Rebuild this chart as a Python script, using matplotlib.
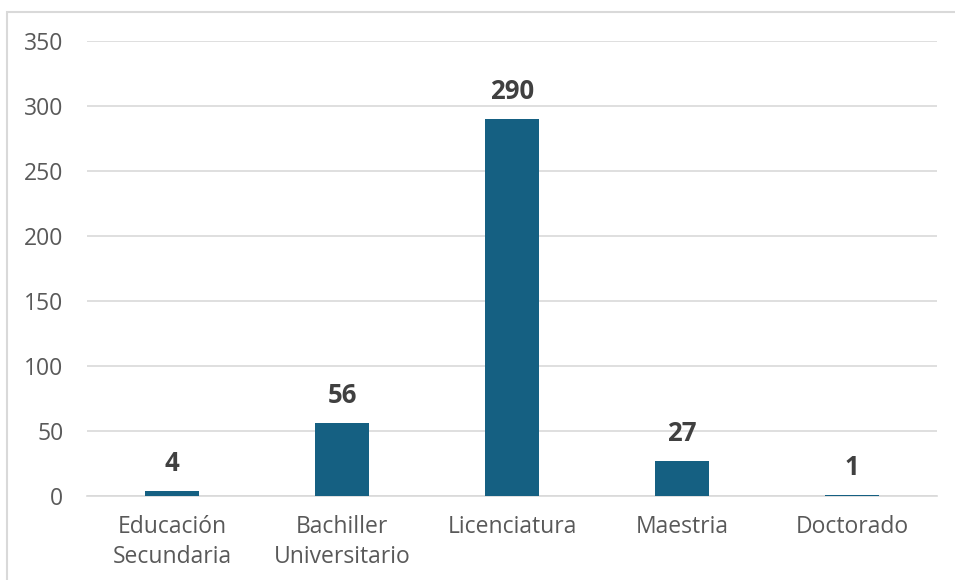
import matplotlib.pyplot as plt
from matplotlib.patches import Rectangle

# education level counts
categories = ['Educación\nSecundaria', 'Bachiller\nUniversitario', 'Licenciatura', 'Maestria', 'Doctorado']
counts = [4, 56, 290, 27, 1]
yticks = [0, 50, 100, 150, 200, 250, 300, 350]

bar_color = '#156082'
grid_color = '#d9d9d9'

plt.rcParams['font.family'] = ['Open Sans', 'DejaVu Sans']

fig = plt.figure(figsize=(9.55, 5.8), dpi=100)
ax = fig.add_axes([87 / 955, 1 - 496 / 580, 850 / 955, 455 / 580])

x = range(len(categories))
bars = ax.bar(x, counts, width=0.315, color=bar_color, zorder=3)

for b, v in zip(bars, counts):
    ax.annotate(str(v), (b.get_x() + b.get_width() / 2, v), xytext=(0, 10),
                textcoords='offset points', ha='center', va='bottom',
                fontsize=18.5, fontweight='bold', color='#404040')

ax.set_xlim(-0.5, len(categories) - 0.5)
ax.set_ylim(0, 350)
ax.set_yticks(yticks)
ax.set_xticks(list(x))
ax.set_xticklabels(categories, linespacing=1.3)
ax.yaxis.grid(True, color=grid_color, linewidth=1.2, zorder=0)
ax.tick_params(axis='y', length=0, pad=17, labelsize=16.5, labelcolor='#595959')
ax.tick_params(axis='x', length=0, pad=14, labelsize=16.5, labelcolor='#595959')
for s in ['top', 'right', 'left']:
    ax.spines[s].set_visible(False)
ax.spines['bottom'].set_color(grid_color)
ax.spines['bottom'].set_linewidth(1.2)

# light frame around the chart area
fig.patches.append(Rectangle((6.5 / 955, -0.1), 2, 1.1 - 11.5 / 580, fill=False,
                             edgecolor=grid_color, linewidth=1.5,
                             transform=fig.transFigure, figure=fig))

fig.savefig('out.png', dpi=100)
